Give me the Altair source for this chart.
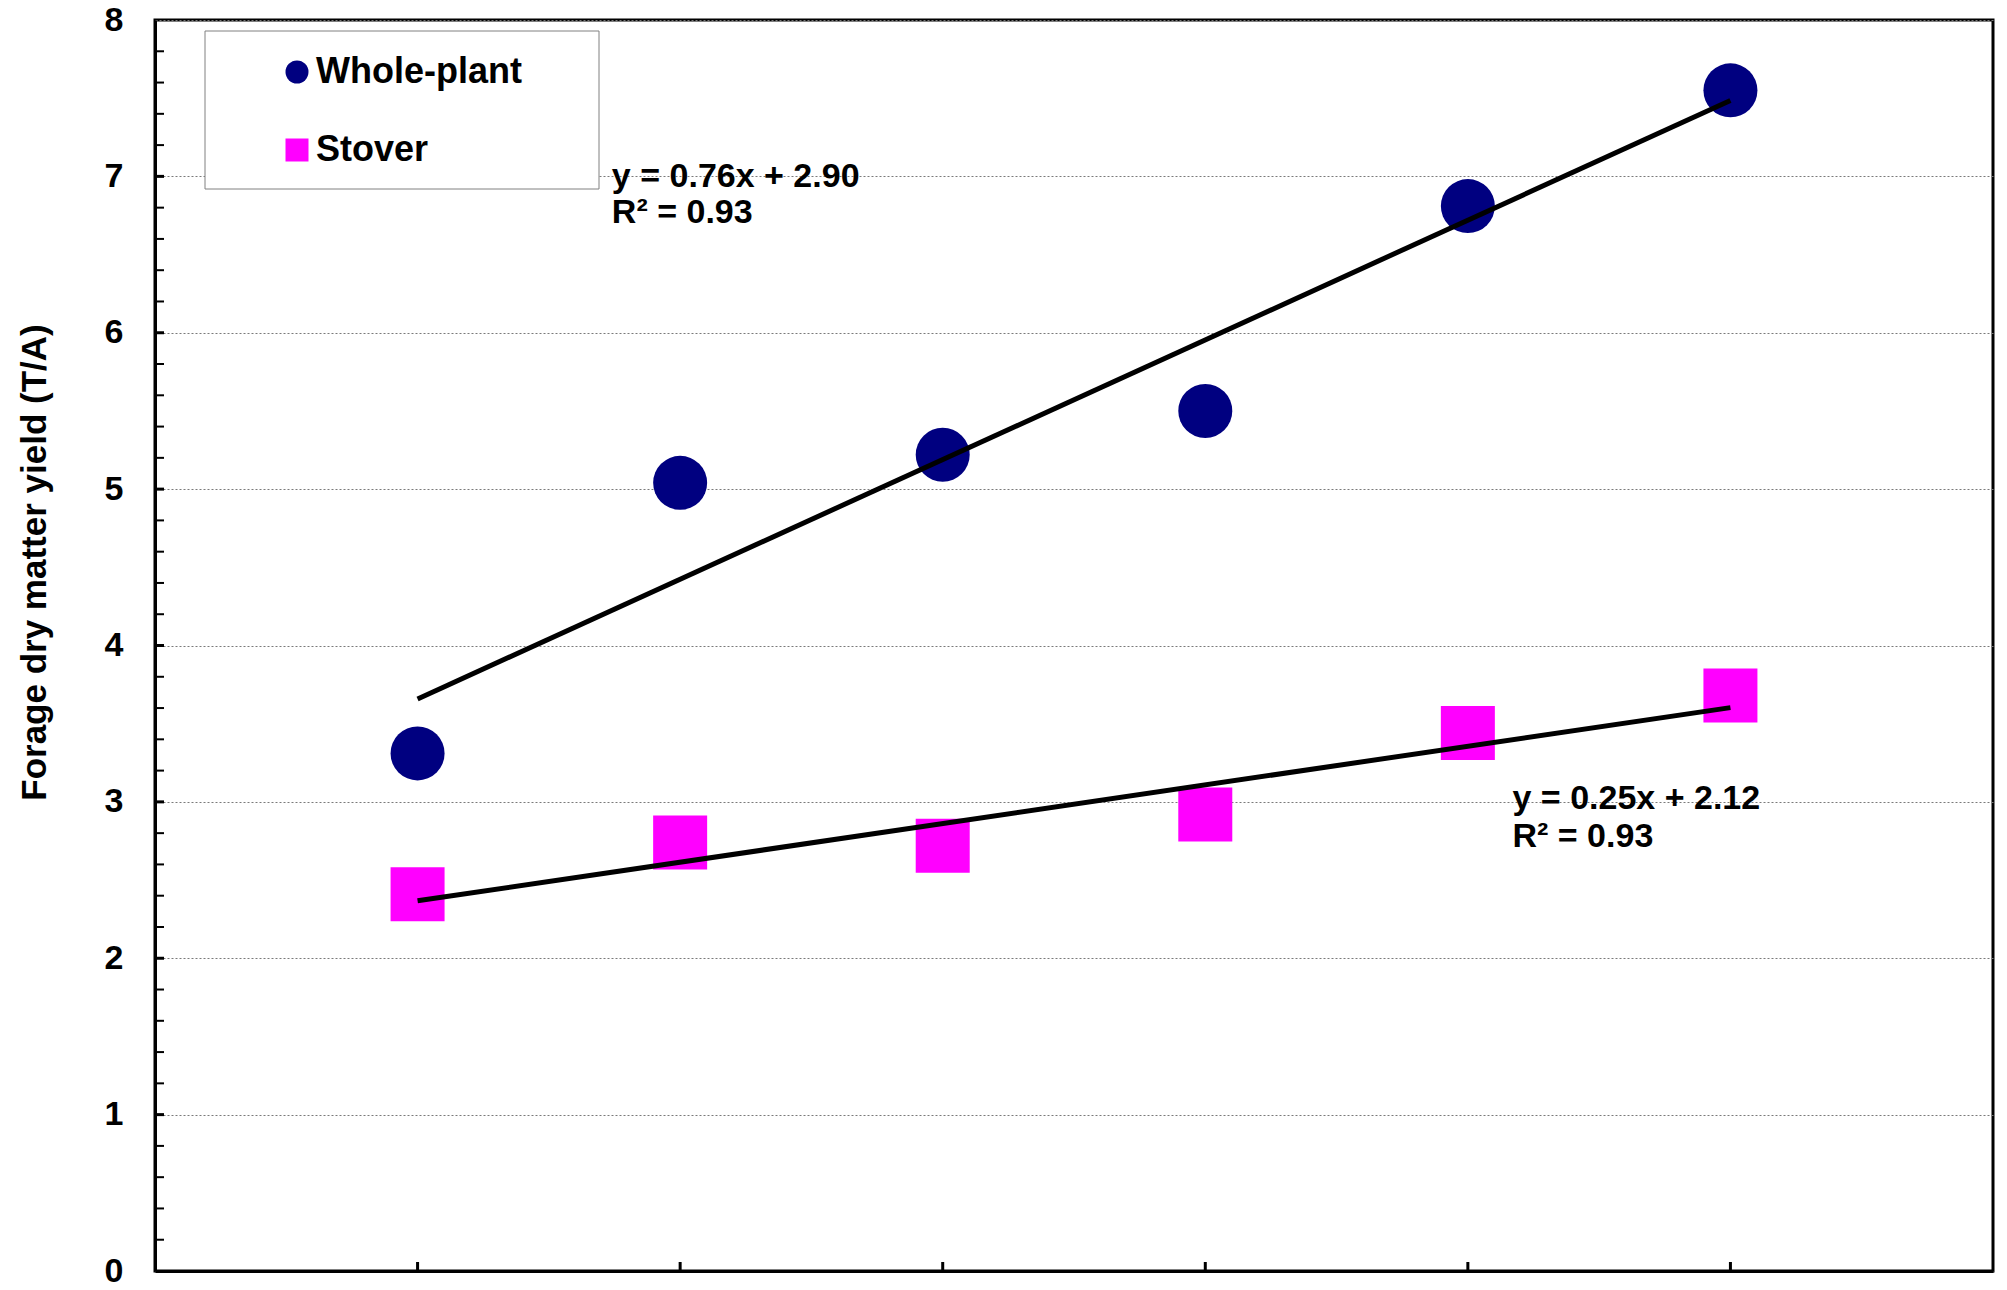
import altair as alt
import pandas as pd

# Harvest stage index (1-6) and forage dry matter yield (T/A)
stages = [1, 2, 3, 4, 5, 6]
whole_plant = [3.31, 5.04, 5.22, 5.50, 6.81, 7.55]
stover = [2.41, 2.74, 2.72, 2.92, 3.44, 3.68]
series_names = ["Whole-plant", "Stover"]
series_colors = ["#000080", "#FF00FF"]
series_shapes = ["circle", "square"]

# Trend-line equations placed beside each fit
eq_lines = ["y = 0.76x + 2.90", "R² = 0.93", "y = 0.25x + 2.12", "R² = 0.93"]
eq_x = [1.74, 1.74, 5.17, 5.17]
eq_y = [6.935, 6.70, 2.956, 2.713]

y_labels = [0, 1, 2, 3, 4, 5, 6, 7, 8]
y_minor = [round(v * 0.2, 1) for v in range(1, 40) if v % 5 != 0]
y_major = [1, 2, 3, 4, 5, 6, 7]

W, H = 1838, 1251
FONT = "Liberation Sans"

points = pd.DataFrame({
    "x": stages * 2,
    "y": whole_plant + stover,
    "series": [series_names[0]] * len(stages) + [series_names[1]] * len(stages),
})
eqs = pd.DataFrame({"x": eq_x, "y": eq_y, "text": eq_lines})

xscale = alt.Scale(domain=[0, 7], nice=False, zero=False)
yscale = alt.Scale(domain=[0, 8], nice=False, zero=False)

x_axis = alt.Axis(
    title=None, labels=False, ticks=False, tickSize=0, grid=False,
    domainColor="black", domainWidth=3,
)
y_axis = alt.Axis(
    title="Forage dry matter yield (T/A)", values=y_labels, format="d",
    ticks=False, tickSize=0, labelPadding=32,
    labelFont=FONT, labelFontSize=34, labelFontWeight="bold", labelColor="black",
    titleFont=FONT, titleFontSize=35, titleFontWeight="bold", titleColor="black",
    titleAngle=270, titleAlign="center", titleBaseline="bottom",
    titleX=-103, titleY=542,
    grid=True, gridColor="#7a7a7a", gridWidth=1, gridDash=[2, 2],
    domainColor="black", domainWidth=3,
)


def xq(field="x"):
    return alt.X(f"{field}:Q", scale=xscale, axis=x_axis)


def yq(field="y"):
    return alt.Y(f"{field}:Q", scale=yscale, axis=y_axis)


# Opaque legend frame
legend_box = alt.Chart(pd.DataFrame({"k": [0]})).mark_rect(
    fill="white", stroke="#808080", strokeWidth=1
).encode(
    x=alt.value(50), x2=alt.value(444), y=alt.value(11), y2=alt.value(169)
)

# Inward-pointing tick marks on the y axis (minor and major)
minor_ticks = alt.Chart(pd.DataFrame({"y": y_minor})).mark_rule(
    color="black", strokeWidth=2
).encode(y=yq(), x=alt.value(0), x2=alt.value(9))
major_ticks = alt.Chart(pd.DataFrame({"y": y_major})).mark_rule(
    color="black", strokeWidth=3
).encode(y=yq(), x=alt.value(0), x2=alt.value(9))

# Inward-pointing tick marks on the x axis
x_ticks = alt.Chart(pd.DataFrame({"x": stages})).mark_rule(
    color="black", strokeWidth=3
).encode(x=xq(), y=alt.value(H), y2=alt.value(H - 9))

scatter = alt.Chart(points).mark_point(filled=True, opacity=1, size=2916).encode(
    x=xq(),
    y=yq(),
    color=alt.Color(
        "series:N",
        scale=alt.Scale(domain=series_names, range=series_colors),
        legend=alt.Legend(title=None),
    ),
    shape=alt.Shape(
        "series:N",
        scale=alt.Scale(domain=series_names, range=series_shapes),
        legend=alt.Legend(title=None),
    ),
)

trend = alt.Chart(points).transform_regression(
    "x", "y", groupby=["series"], extent=[1, 6]
).mark_line(color="black", strokeWidth=5).encode(
    x=xq(), y=yq(), detail="series:N"
)

labels = alt.Chart(eqs).mark_text(
    align="left", baseline="alphabetic", font=FONT, fontSize=34,
    fontWeight="bold", color="black",
).encode(x=xq(), y=yq(), text="text:N")

chart = alt.layer(
    legend_box, minor_ticks, major_ticks, x_ticks, scatter, trend, labels
).properties(
    width=W,
    height=H,
    autosize=alt.AutoSizeParams(type="none"),
    padding={"left": 155, "top": 20, "right": 14, "bottom": 19},
    background="white",
).configure_view(
    stroke="black", strokeWidth=3
).configure_legend(
    orient="none", legendX=124, legendY=34, padding=0,
    symbolSize=529, symbolOpacity=1, symbolStrokeWidth=0,
    labelFont=FONT, labelFontSize=36, labelFontWeight="bold", labelColor="black",
    labelOffset=1, labelLimit=500, rowPadding=42,
)

chart.save("out.html", embed_options={"renderer": "svg", "actions": False})
